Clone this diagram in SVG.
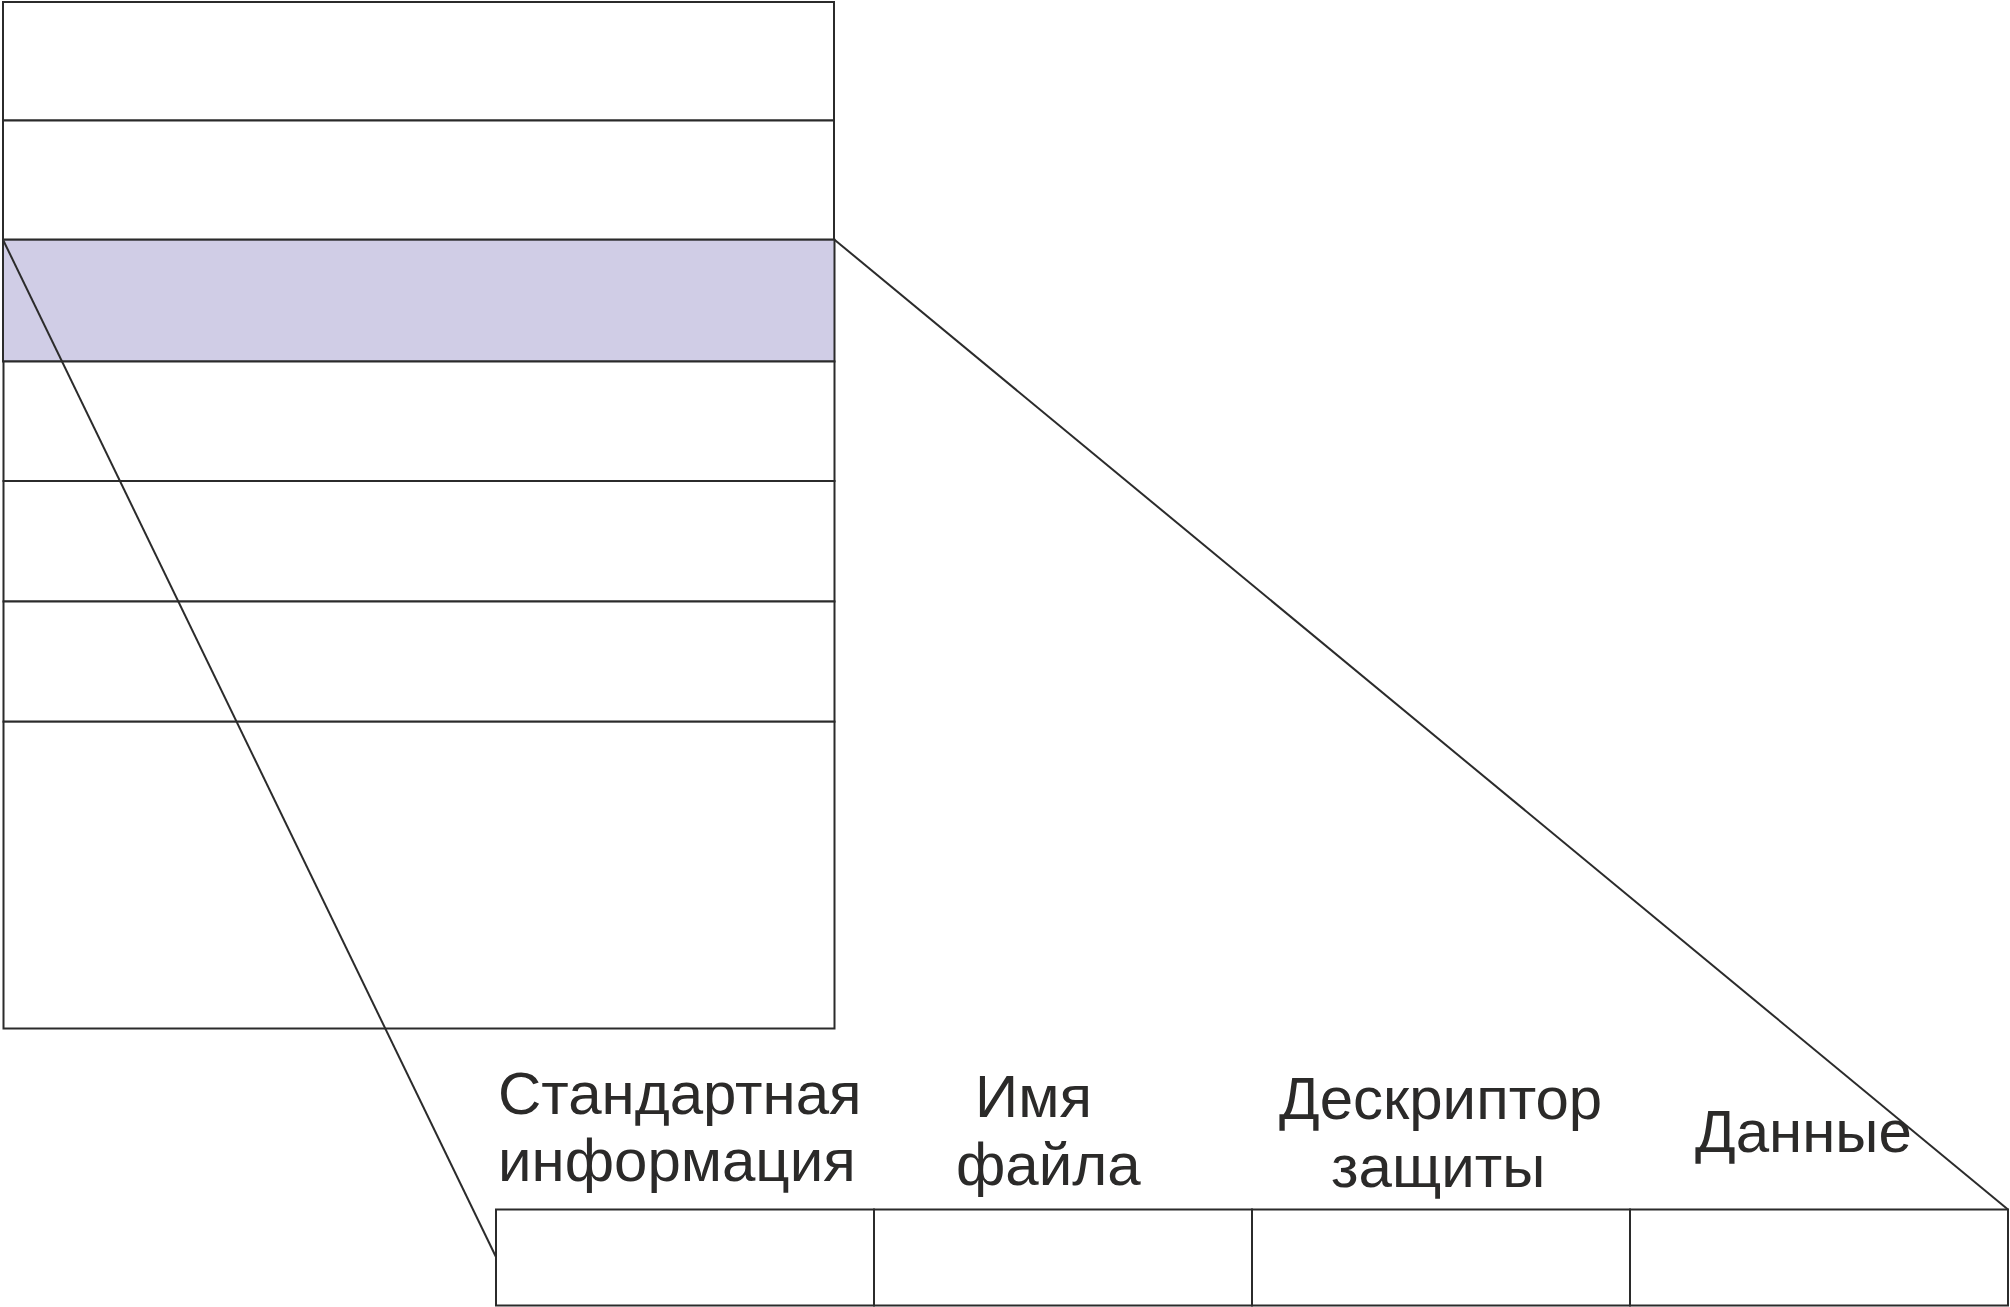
<svg xmlns="http://www.w3.org/2000/svg" width="2010" height="1307" viewBox="0 0 2010 1307">
<style>
.cell{fill:#ffffff;stroke:#2b2b2b;stroke-width:2}
.hl{fill:#d0cde6;stroke:#2b2b2b;stroke-width:2}
.lbl{font-family:"Liberation Sans",Arial,sans-serif;font-size:60px;fill:#2b2a29}
.conn{fill:none;stroke:#2b2b2b;stroke-width:2}
</style>
<rect width="2010" height="1307" fill="#ffffff"/>
<g id="table">
<g id="row1"><rect class="cell" x="3" y="2" width="831" height="118.5"/></g>
<g id="row2"><rect class="cell" x="3" y="120.5" width="831" height="119.2"/></g>
<g id="row3"><rect class="hl" x="3" y="239.7" width="831.5" height="121.8"/></g>
<g id="row4"><rect class="cell" x="3.5" y="361.5" width="831" height="119.5"/></g>
<g id="row5"><rect class="cell" x="3.5" y="481" width="831" height="120.5"/></g>
<g id="row6"><rect class="cell" x="3.5" y="601.5" width="831" height="120.2"/></g>
<g id="row7"><rect class="cell" x="3.5" y="721.7" width="831" height="306.8"/></g>
</g>
<g id="record">
<g id="std-info">
<rect class="cell" x="496" y="1209.5" width="378" height="96"/>
<text class="lbl" x="498" y="1114">Стандартная</text>
<text class="lbl" x="498" y="1181">информация</text>
</g>
<g id="file-name">
<rect class="cell" x="874" y="1209.5" width="378" height="96"/>
<text class="lbl" x="975" y="1117">Имя</text>
<text class="lbl" x="956" y="1185">файла</text>
</g>
<g id="security">
<rect class="cell" x="1252" y="1209.5" width="378" height="96"/>
<text class="lbl" x="1279" y="1119">Дескриптор</text>
<text class="lbl" x="1331" y="1187">защиты</text>
</g>
<g id="data">
<rect class="cell" x="1630" y="1209.5" width="378" height="96"/>
<text class="lbl" x="1695" y="1152">Данные</text>
</g>
</g>
<g id="connectors">
<line class="conn" x1="3" y1="239.7" x2="496" y2="1257"/>
<line class="conn" x1="834.5" y1="239.7" x2="2008" y2="1209.5"/>
</g>
</svg>
